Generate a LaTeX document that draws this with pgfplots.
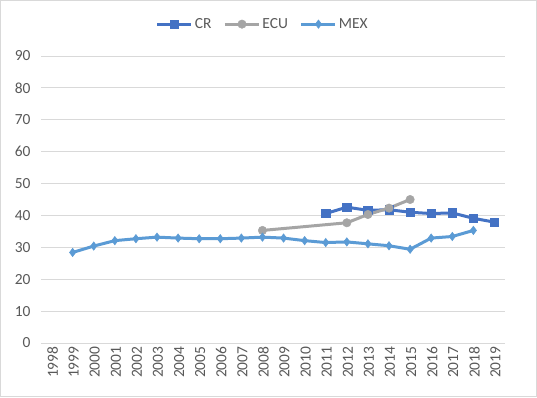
\documentclass[border=0pt]{standalone}
\usepackage{pgfplots}
\pgfplotsset{compat=1.18}
\usepackage{fontspec}
\setmainfont{Carlito}
\definecolor{crc}{HTML}{4472C4}
\definecolor{ecuc}{HTML}{A5A5A5}
\definecolor{mexc}{HTML}{5B9BD5}
\definecolor{gridc}{HTML}{D9D9D9}
\definecolor{txt}{HTML}{595959}
\begin{document}
\begin{tikzpicture}[x=1bp,y=1bp]
\draw[draw=gridc, line width=1bp, fill=white] (0.5,0.5) rectangle (536.5,396.5);
\path[use as bounding box] (0,0) rectangle (537,397);
\begin{axis}[
  at={(41bp,54bp)}, anchor=south west,
  scale only axis, width=464bp, height=287bp,
  xmin=1997.5, xmax=2019.5, ymin=0, ymax=90,
  enlargelimits=false,
  ytick={0,10,...,90},
  xtick={1998,...,2019},
  xticklabels={1998,1999,2000,2001,2002,2003,2004,2005,2006,2007,2008,2009,2010,2011,2012,2013,2014,2015,2016,2017,2018,2019},
  /pgf/number format/assume math mode=true,
  ymajorgrids, grid style={draw=gridc, line width=0.9bp},
  axis line style={draw=none},
  major tick length=0pt,
  tick label style={font=\fontsize{15.5}{18}\selectfont, text=txt},
  xticklabel style={rotate=90, anchor=east, xshift=0bp, yshift=-1bp},
  yticklabel style={xshift=-7bp},
  clip=false,
  legend style={at={(0.478,1.111)}, anchor=center, draw=none, fill=none,
    font=\fontsize{15.5}{18}\selectfont, text=txt,
    legend columns=3, /tikz/every even column/.append style={column sep=10bp},
    legend cell align=left, inner sep=0pt},
  legend image code/.code={\draw[mark repeat=2,mark phase=2] plot coordinates {(0bp,0bp)(17bp,0bp)(34bp,0bp)};},
]
\addplot[crc, line width=3bp, mark=square*, mark size=4.2bp, mark options={line width=0.5bp}] coordinates {
(2011,40.6)(2012,42.6)(2013,41.6)(2014,41.8)(2015,41.0)(2016,40.6)(2017,40.8)(2018,39.1)(2019,37.9)};
\addlegendentry{CR}
\addplot[ecuc, line width=3bp, mark=*, mark size=4.2bp, mark options={line width=0.5bp}] coordinates {
(2008,35.3)(2012,37.7)(2013,40.3)(2014,42.3)(2015,45.0)};
\addlegendentry{ECU}
\addplot[mexc, line width=3bp, mark=diamond*, mark size=4.2bp, mark options={line width=0.5bp}] coordinates {
(1999,28.4)(2000,30.4)(2001,32.1)(2002,32.7)(2003,33.2)(2004,32.9)(2005,32.7)(2006,32.7)(2007,32.9)(2008,33.2)(2009,32.9)(2010,32.1)(2011,31.5)(2012,31.7)(2013,31.1)(2014,30.5)(2015,29.4)(2016,32.9)(2017,33.4)(2018,35.3)};
\addlegendentry{MEX}
\end{axis}
\end{tikzpicture}
\end{document}
